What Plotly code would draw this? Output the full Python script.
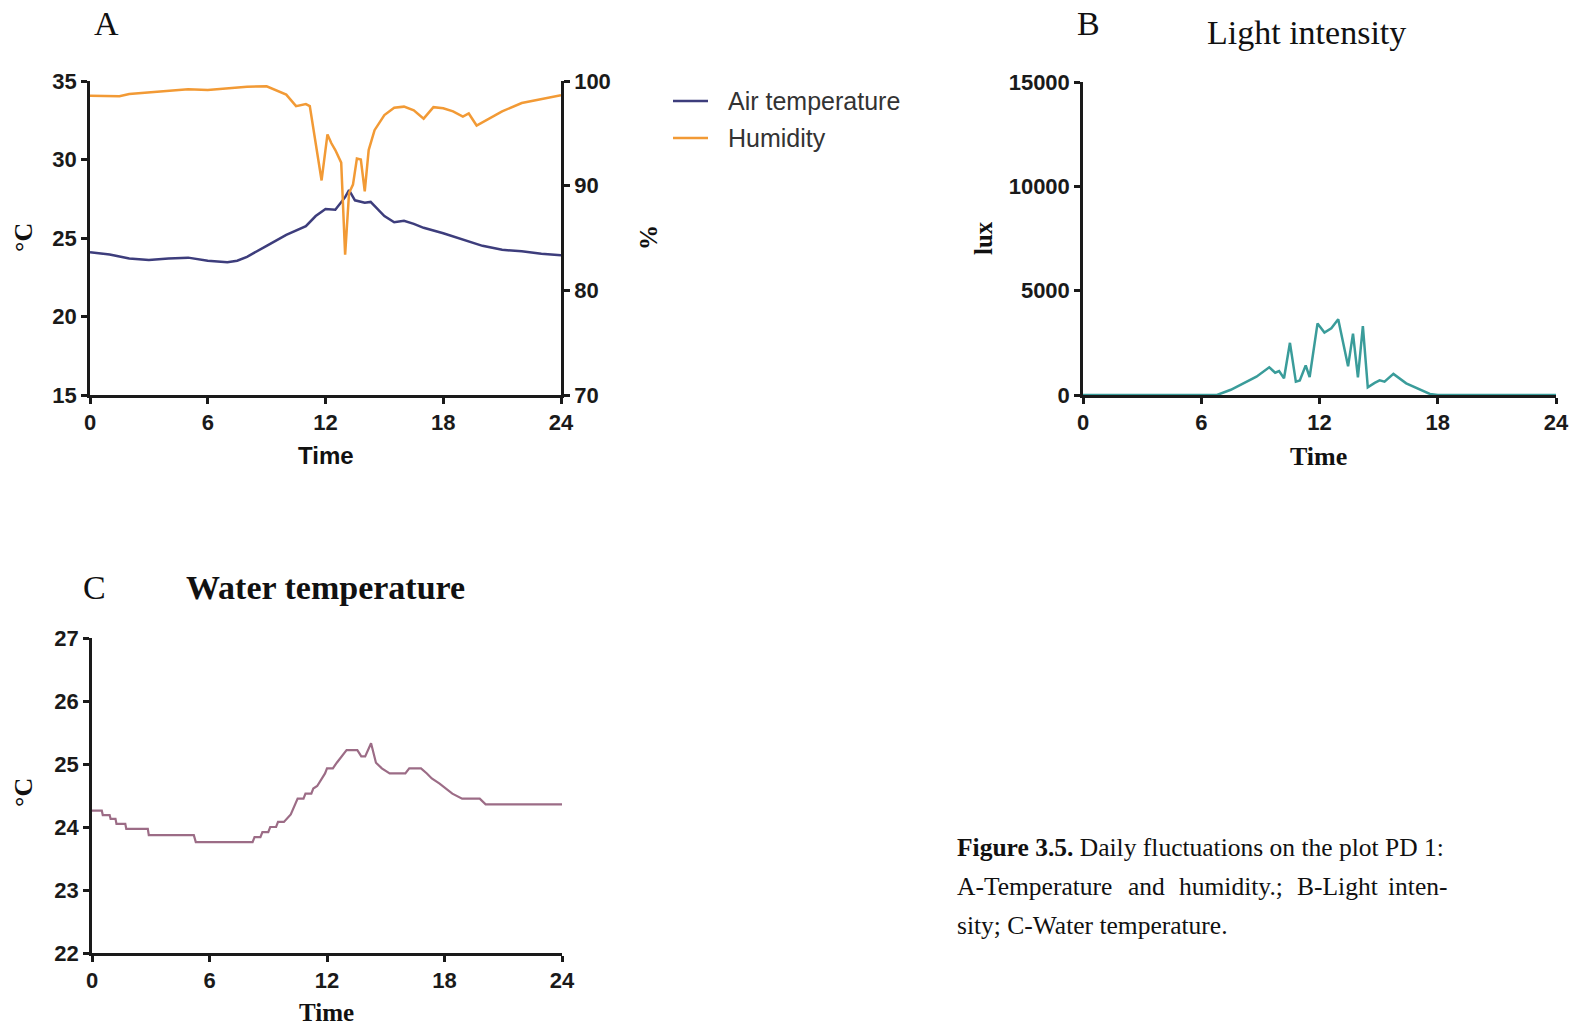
import plotly.graph_objects as go

W, H = 1581, 1028

# ---------------- Panel A: air temperature & humidity ----------------
air_time = [0, 1, 2, 3, 4, 5, 6, 7, 7.5, 8, 9, 10, 11, 11.5, 12, 12.5, 13, 13.2, 13.5, 14, 14.3,
            15, 15.5, 16, 16.5, 17, 18, 19, 20, 21, 22, 23, 24]
air_temp = [24.1, 23.95, 23.7, 23.6, 23.7, 23.75, 23.55, 23.45, 23.55, 23.8, 24.5, 25.2, 25.75, 26.4,
            26.85, 26.8, 27.6, 28.05, 27.4, 27.25, 27.3, 26.4, 26.0, 26.1, 25.9, 25.65, 25.3, 24.9,
            24.5, 24.25, 24.15, 24.0, 23.9]

hum_time = [0, 1.5, 2, 3, 4, 5, 6, 7, 8, 9, 9.5, 10, 10.5, 11, 11.2, 11.5, 11.8, 12.1, 12.3, 12.5,
            12.8, 13.0, 13.2, 13.4, 13.6, 13.8, 14.0, 14.2, 14.5, 15, 15.5, 16, 16.5, 17, 17.5, 18,
            18.5, 19, 19.3, 19.7, 20, 20.5, 21, 22, 23, 24]
hum_val = [98.6, 98.55, 98.75, 98.9, 99.1, 99.2, 99.15, 99.3, 99.45, 99.5, 99.1, 98.7, 97.6, 97.8,
           97.6, 94.05, 90.5, 94.9, 94.05, 93.4, 92.2, 83.4, 89.3, 90.1, 92.6, 92.5, 89.45, 93.4,
           95.3, 96.75, 97.45, 97.55, 97.2, 96.4, 97.5, 97.4, 97.1, 96.6, 96.9, 95.75, 96.05, 96.6,
           97.1, 97.9, 98.25, 98.65]

# ---------------- Panel B: light intensity ----------------
light_time = [0, 6, 6.8, 7.5, 8.15, 8.8, 9.45, 9.75, 9.95, 10.2, 10.5, 10.8, 11.0, 11.3, 11.5, 11.9,
              12.25, 12.6, 12.95, 13.45, 13.7, 13.95, 14.2, 14.45, 14.8, 15.05, 15.3, 15.75, 16.4,
              17.1, 17.6, 18, 24]
light_lux = [0, 0, 0, 250, 560, 880, 1330, 1070, 1150, 800, 2500, 640, 700, 1420, 860, 3430, 2990,
             3200, 3630, 1380, 2940, 840, 3300, 370, 580, 700, 640, 1010, 560, 260, 50, 0, 0]

# ---------------- Panel C: water temperature ----------------
water_time = [0, 0.5, 0.55, 0.9, 0.95, 1.2, 1.25, 1.7, 1.75, 2.85, 2.9, 5.2, 5.3, 8.2, 8.3, 8.6, 8.7,
              9.0, 9.1, 9.4, 9.5, 9.8, 10.15, 10.5, 10.8, 10.9, 11.2, 11.3, 11.5, 11.9, 12.0, 12.3,
              12.5, 12.8, 13.0, 13.55, 13.75, 13.95, 14.25, 14.5, 14.8, 15.2, 16.0, 16.2, 16.8, 17.1,
              17.35, 17.75, 18.05, 18.4, 18.9, 19.8, 20.1, 24]
water_temp = [24.26, 24.26, 24.19, 24.19, 24.13, 24.13, 24.05, 24.05, 23.97, 23.97, 23.87, 23.87,
              23.76, 23.76, 23.84, 23.84, 23.92, 23.92, 24.0, 24.0, 24.08, 24.08, 24.2, 24.45, 24.45,
              24.53, 24.53, 24.61, 24.65, 24.85, 24.93, 24.93, 25.02, 25.14, 25.22, 25.22, 25.12,
              25.12, 25.33, 25.02, 24.93, 24.85, 24.85, 24.93, 24.93, 24.85, 24.77, 24.69, 24.61,
              24.53, 24.45, 24.45, 24.36, 24.36]

x_ticks = [0, 6, 12, 18, 24]

AIR_C = "#3d3d7c"
HUM_C = "#f29a35"
LUX_C = "#3a9c9a"
WAT_C = "#9c6c86"
AX_C = "#1a1a1a"


def px(x):
    return x / W


def py(y):
    return 1 - y / H


fig = go.Figure()
fig.add_trace(go.Scatter(x=air_time, y=air_temp, mode="lines", line=dict(color=AIR_C, width=2.5),
                         xaxis="x", yaxis="y", name="Air temperature", showlegend=False))
fig.add_trace(go.Scatter(x=hum_time, y=hum_val, mode="lines", line=dict(color=HUM_C, width=2.5),
                         xaxis="x", yaxis="y2", name="Humidity", showlegend=False))
fig.add_trace(go.Scatter(x=light_time, y=light_lux, mode="lines", line=dict(color=LUX_C, width=2.5),
                         xaxis="x3", yaxis="y3", name="Light", showlegend=False))
fig.add_trace(go.Scatter(x=water_time, y=water_temp, mode="lines", line=dict(color=WAT_C, width=2.2),
                         xaxis="x4", yaxis="y4", name="Water", showlegend=False))

tickfont = dict(family="Liberation Sans, Arial", size=22, color=AX_C)
common = dict(showgrid=False, zeroline=False, showline=True, linecolor=AX_C, linewidth=2.5,
              ticks="outside", ticklen=6, tickwidth=2.5, tickcolor=AX_C, tickfont=tickfont,
              automargin=False)


def tf(s):
    return f"<b>{s}</b>"


xdomA = [px(90), px(561)]
ydomA = [py(395), py(81)]
xdomB = [px(1083), px(1556)]
ydomB = [py(395), py(82)]
xdomC = [px(92), px(562)]
ydomC = [py(953), py(638)]

fig.update_layout(
    template="none",
    width=W, height=H, margin=dict(l=0, r=0, t=0, b=0, autoexpand=False),
    paper_bgcolor="white", plot_bgcolor="white", showlegend=False,
    xaxis=dict(domain=xdomA, range=[0, 24], anchor="y", tickvals=x_ticks,
               ticktext=[tf(v) for v in x_ticks], **common),
    yaxis=dict(domain=ydomA, range=[15, 35], anchor="x", tickvals=[15, 20, 25, 30, 35],
               ticktext=[tf(v) for v in [15, 20, 25, 30, 35]], **common),
    yaxis2=dict(domain=ydomA, range=[70, 100], anchor="x", overlaying="y", side="right",
                tickvals=[70, 80, 90, 100], ticktext=[tf(v) for v in [70, 80, 90, 100]], **common),
    xaxis3=dict(domain=xdomB, range=[0, 24], anchor="y3", tickvals=x_ticks, layer="below traces",
                ticktext=[tf(v) for v in x_ticks], **common),
    yaxis3=dict(domain=ydomB, range=[0, 15000], anchor="x3", tickvals=[0, 5000, 10000, 15000],
                ticktext=[tf(v) for v in [0, 5000, 10000, 15000]], **common),
    xaxis4=dict(domain=xdomC, range=[0, 24], anchor="y4", tickvals=x_ticks,
                ticktext=[tf(v) for v in x_ticks], **common),
    yaxis4=dict(domain=ydomC, range=[22, 27], anchor="x4", tickvals=[22, 23, 24, 25, 26, 27],
                ticktext=[tf(v) for v in [22, 23, 24, 25, 26, 27]], **common),
)

SERIF = "Liberation Serif, Times New Roman"
SANS = "Liberation Sans, Arial"


def ann(text, x, y, size, family=SERIF, angle=0, xanchor="center", color="#111"):
    fig.add_annotation(text=text, x=px(x), y=py(y), xref="paper", yref="paper", showarrow=False,
                       xanchor=xanchor, yanchor="middle", textangle=angle,
                       font=dict(family=family, size=size, color=color))


# Panel letters & titles
ann("A", 106, 23, 34)
ann("B", 1088, 23, 34)
ann("Light intensity", 1306, 32, 34)
ann("C", 94, 587, 34)
ann("<b>Water temperature</b>", 325, 587, 34)

# Axis titles
ann("<b>°C</b>", 23, 238, 26, angle=-90)
ann("<b>%</b>", 648, 238, 25, angle=-90)
ann("<b>lux</b>", 983, 238, 25, angle=-90)
ann("<b>°C</b>", 23, 793, 26, angle=-90)
ann("<b>Time</b>", 326, 455, 24, family=SANS)
ann("<b>Time</b>", 1318, 456, 26)
ann("<b>Time</b>", 326, 1012, 25)

# Legend (panel A)
for yy, col, lab in [(101, AIR_C, "Air temperature"), (138, HUM_C, "Humidity")]:
    fig.add_shape(type="line", xref="paper", yref="paper", x0=px(673), x1=px(708), y0=py(yy),
                  y1=py(yy), line=dict(color=col, width=2.5))
    ann(lab, 726, yy, 25, family=SANS, xanchor="left", color="#333")

# Caption (second line justified by placing its words individually)
cap_size = 25.5
ann("<b>Figure 3.5.</b> Daily fluctuations on the plot PD 1:", 955, 847, cap_size, xanchor="left")
line2 = [("A-Temperature", 955, "left"), ("and", 1126, "left"), ("humidity.;", 1177, "left"),
         ("B-Light", 1295, "left"), ("inten-", 1449, "right")]
for word, xx, anc in line2:
    ann(word, xx, 886, cap_size, xanchor=anc)
ann("sity; C-Water temperature.", 955, 925, cap_size, xanchor="left")

fig.write_html("out.html")
